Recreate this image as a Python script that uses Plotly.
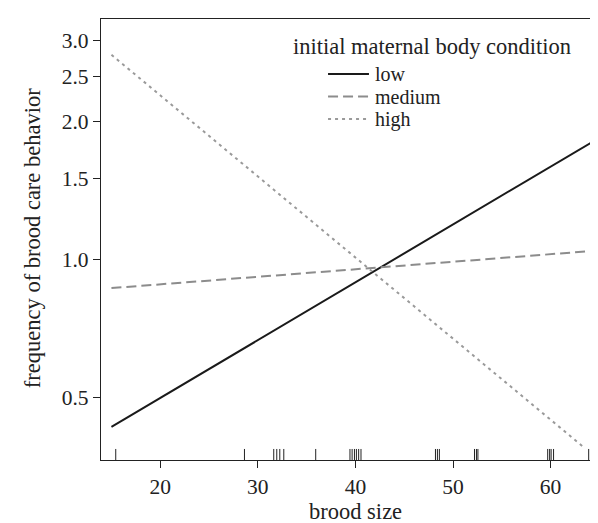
import plotly.graph_objects as go
import math

# ---- data ----
conditions = ["low", "medium", "high"]
low_x = [15, 65]
low_y = [0.431, 1.84]
medium_x = [15, 65]
medium_y = [0.865, 1.045]
high_x = [15, 63.4]
high_y = [2.79, 0.389]

rug_brood_sizes = [15.44, 28.63, 31.63, 31.94, 32.25, 32.66, 35.93,
                   39.44, 39.66, 39.9, 40.1, 40.33, 40.57,
                   48.2, 48.4, 48.6, 52.2, 52.4, 52.55,
                   59.7, 59.9, 60.05, 60.3, 63.9]

x_ticks = [20, 30, 40, 50, 60]
y_ticks = [0.5, 1.0, 1.5, 2.0, 2.5, 3.0]
y_tick_labels = ["0.5", "1.0", "1.5", "2.0", "2.5", "3.0"]

FONT = "Liberation Serif"
TXT = "#222222"

styles = {
    "low": dict(color="#1a1a1a", width=2, dash="solid"),
    "medium": dict(color="#8c8c8c", width=2, dash="10px,5px"),
    "high": dict(color="#9a9a9a", width=2, dash="3px,4px"),
}

fig = go.Figure()
for name, xs, ys in [("low", low_x, low_y), ("medium", medium_x, medium_y), ("high", high_x, high_y)]:
    fig.add_trace(go.Scatter(x=xs, y=ys, mode="lines", name=name,
                             line=styles[name], showlegend=False))

# rug
shapes = []
for v in rug_brood_sizes:
    shapes.append(dict(type="line", xref="x", yref="y domain", x0=v, x1=v,
                       y0=0, y1=0.025, line=dict(color="#222222", width=1)))

# manual legend
annotations = [dict(text="initial maternal body condition", xref="paper", yref="paper",
                    x=0.381, y=0.9387, xanchor="left", yanchor="middle", showarrow=False,
                    font=dict(family=FONT, size=22.5, color=TXT))]
leg_rows = [0.8752, 0.8241, 0.7730]
for name, yy in zip(conditions, leg_rows):
    st = styles[name]
    shapes.append(dict(type="line", xref="paper", yref="paper", x0=0.455, x1=0.537,
                       y0=yy, y1=yy, line=dict(color=st["color"], width=st["width"], dash=st["dash"])))
    annotations.append(dict(text=name, xref="paper", yref="paper", x=0.545, y=yy,
                            xanchor="left", yanchor="middle", showarrow=False,
                            font=dict(family=FONT, size=20, color=TXT)))

# axis titles
annotations.append(dict(text="brood size", xref="paper", yref="paper", x=0.51, y=-0.1164,
                        xanchor="center", yanchor="middle", showarrow=False,
                        font=dict(family=FONT, size=22.5, color=TXT)))
annotations.append(dict(text="frequency of brood care behavior", xref="paper", yref="paper",
                        x=-0.1383, y=0.503, xanchor="center", yanchor="middle",
                        textangle=-90, showarrow=False,
                        font=dict(family=FONT, size=22.5, color=TXT)))

fig.update_layout(
    width=598, height=523,
    margin=dict(l=93, r=6, t=11, b=71),
    paper_bgcolor="white", plot_bgcolor="white",
    font=dict(family=FONT, size=21, color=TXT),
    shapes=shapes, annotations=annotations,
    showlegend=False,
)
fig.update_xaxes(range=[13.93, 65.06], tickvals=x_ticks, ticks="outside", ticklen=7,
                 tickwidth=1, tickcolor="#222", showline=True, linecolor="#222",
                 linewidth=1.3, mirror=True, showgrid=False, zeroline=False,
                 tickfont=dict(family=FONT, size=21.5, color=TXT))
fig.update_yaxes(type="log", range=[math.log10(0.365), math.log10(3.339)],
                 tickvals=y_ticks, ticktext=y_tick_labels, ticks="outside", ticklen=7,
                 tickwidth=1, tickcolor="#222", showline=True, linecolor="#222",
                 linewidth=1.3, mirror=True, showgrid=False, zeroline=False,
                 tickfont=dict(family=FONT, size=21.5, color=TXT))

fig.write_html("out.html")
